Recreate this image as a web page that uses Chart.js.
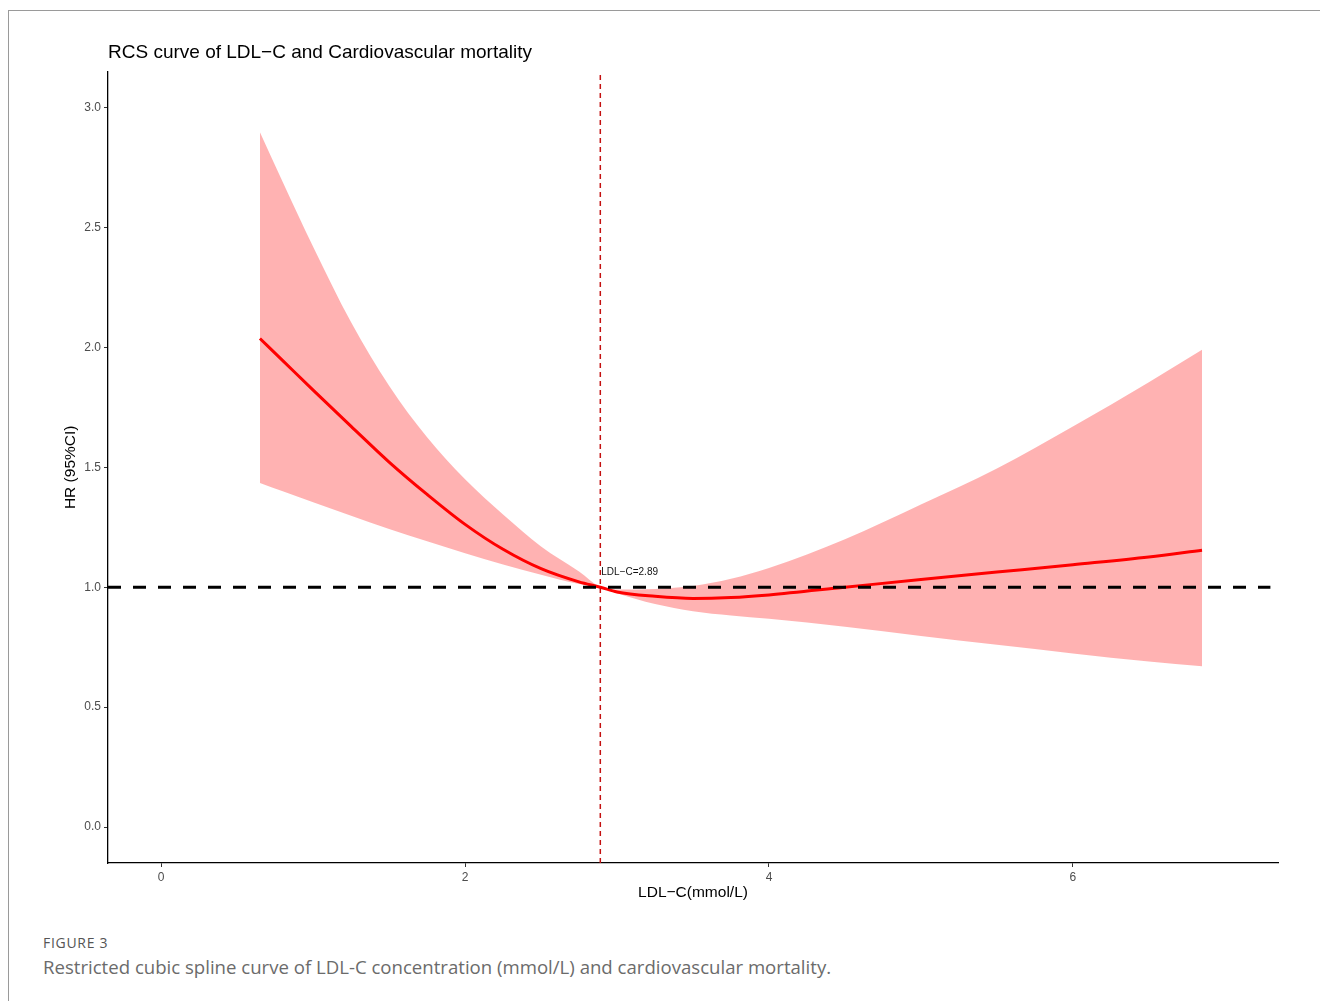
<!DOCTYPE html>
<html>
<head>
<meta charset="utf-8">
<title>RCS curve of LDL−C and Cardiovascular mortality</title>
<script src="https://cdn.jsdelivr.net/npm/chart.js@4/dist/chart.umd.min.js"></script>
<style>
  html, body { margin: 0; padding: 0; background: #fff; }
  body { width: 1320px; height: 1001px; position: relative; overflow: hidden; }
  .frame { position: absolute; left: 8px; top: 10px; width: 1320px; height: 1000px;
           border-top: 1px solid #9a9a9a; border-left: 1px solid #9a9a9a; }
  .plot { position: absolute; left: 0; top: 0; width: 1320px; height: 911px; }
  .fig-label { position: absolute; left: 43px; top: 933px; font-family: "Open Sans", sans-serif;
               font-size: 14px; color: #555; letter-spacing: 0.7px; }
  .fig-caption { position: absolute; left: 43px; top: 954px; font-family: "Open Sans", sans-serif;
                 font-size: 18.6px; color: #6b6b6b; }
</style>
</head>
<body>
<div class="frame"></div>
<div class="plot"><canvas id="chart" width="1320" height="911"></canvas></div>
<div class="fig-label">FIGURE 3</div>
<div class="fig-caption">Restricted cubic spline curve of LDL-C concentration (mmol/L) and cardiovascular mortality.</div>
<script>
// LDL-C concentration (mmol/L) at which the spline is evaluated
const ldl = [0.65, 0.8, 1.0, 1.25, 1.5, 1.75, 2.0, 2.25, 2.5, 2.75, 2.89, 3.0, 3.25, 3.5, 3.75, 4.0, 4.5, 5.0, 5.5, 6.0, 6.5, 6.85];
// Hazard ratio estimate
const hr = [2.037, 1.945, 1.822, 1.671, 1.522, 1.387, 1.262, 1.158, 1.077, 1.022, 1.00, 0.980, 0.962, 0.953, 0.957, 0.968, 1.000, 1.032, 1.063, 1.094, 1.126, 1.154];
// 95% confidence limits
const hrUpper = [2.897, 2.69, 2.42, 2.105, 1.84, 1.625, 1.45, 1.303, 1.17, 1.065, 1.00, 0.990, 0.993, 1.005, 1.035, 1.080, 1.200, 1.345, 1.495, 1.670, 1.855, 1.99];
const hrLower = [1.435, 1.40, 1.354, 1.298, 1.243, 1.192, 1.142, 1.095, 1.052, 1.013, 1.00, 0.975, 0.930, 0.900, 0.882, 0.868, 0.835, 0.797, 0.760, 0.724, 0.690, 0.670];
// Reference lines
const cutoff = 2.89;
const refHR = 1.0;
// Axis ranges and tick labels
const xRange = [-0.35, 7.35];
const yRange = [-0.15, 3.15];
const xTicks = [0, 2, 4, 6];
const yTicks = [0.0, 0.5, 1.0, 1.5, 2.0, 2.5, 3.0];

const pts = (ys) => ldl.map((x, i) => ({ x: x, y: ys[i] }));
const FONT = '"Liberation Sans", Arial, sans-serif';

const cutoffLabel = {
  id: 'cutoffLabel',
  afterDatasetsDraw(chart) {
    const { ctx, scales } = chart;
    const px = scales.x.getPixelForValue(cutoff);
    const py = scales.y.getPixelForValue(refHR);
    ctx.save();
    ctx.font = '10px ' + FONT;
    ctx.fillStyle = '#111';
    ctx.textAlign = 'left';
    ctx.textBaseline = 'middle';
    ctx.fillText('LDL−C=' + cutoff.toFixed(2), px + 1, py - 15);
    ctx.restore();
  }
};

new Chart(document.getElementById('chart'), {
  type: 'line',
  data: {
    datasets: [
      { // horizontal reference at HR = 1
        data: [{ x: xRange[0], y: refHR }, { x: 7.3, y: refHR }],
        borderColor: '#000', borderWidth: 3, borderDash: [13, 12],
        pointRadius: 0, fill: false, order: 0
      },
      { // vertical reference at the cutoff
        data: [{ x: cutoff, y: yRange[0] }, { x: cutoff, y: yRange[1] }],
        borderColor: '#c41010', borderWidth: 1.5, borderDash: [5, 4],
        pointRadius: 0, fill: false, order: 1
      },
      { // fitted hazard ratio
        data: pts(hr),
        borderColor: '#ff0000', borderWidth: 3,
        pointRadius: 0, fill: false, order: 2,
        cubicInterpolationMode: 'monotone'
      },
      { // upper confidence limit
        data: pts(hrUpper),
        borderWidth: 0, borderColor: 'rgba(0,0,0,0)',
        pointRadius: 0, fill: false, order: 3,
        cubicInterpolationMode: 'monotone'
      },
      { // lower confidence limit, band filled to the upper limit
        data: pts(hrLower),
        borderWidth: 0, borderColor: 'rgba(0,0,0,0)',
        backgroundColor: 'rgba(255,0,0,0.3)',
        pointRadius: 0, fill: '-1', order: 4,
        cubicInterpolationMode: 'monotone'
      }
    ]
  },
  options: {
    responsive: false,
    animation: false,
    events: [],
    layout: { padding: { left: 0, right: 42, top: 0, bottom: 0 } },
    plugins: {
      legend: { display: false },
      tooltip: { enabled: false },
      title: {
        display: true,
        text: 'RCS curve of LDL−C and Cardiovascular mortality',
        align: 'start',
        fullSize: false,
        color: '#000',
        font: { family: FONT, size: 19, weight: 'normal' },
        padding: { top: 41, bottom: 7.8 }
      }
    },
    scales: {
      x: {
        type: 'linear',
        min: xRange[0], max: xRange[1],
        afterBuildTicks: (s) => { s.ticks = xTicks.map(v => ({ value: v })); },
        afterFit: (s) => { s.height = 48; },
        grid: { display: true, drawOnChartArea: false, drawTicks: true, tickLength: 4, color: '#333', lineWidth: 1 },
        border: { display: true, color: '#000', width: 1.3 },
        ticks: { color: '#4d4d4d', font: { family: FONT, size: 12 }, padding: 3, maxRotation: 0,
                 callback: (v) => String(v) },
        title: { display: true, text: 'LDL−C(mmol/L)', color: '#000',
                 font: { family: FONT, size: 15.5 }, padding: { top: 0, bottom: 9 } }
      },
      y: {
        type: 'linear',
        min: yRange[0], max: yRange[1],
        afterBuildTicks: (s) => { s.ticks = yTicks.map(v => ({ value: v })); },
        afterFit: (s) => { s.width = 108; },
        grid: { display: true, drawOnChartArea: false, drawTicks: true, tickLength: 4, color: '#333', lineWidth: 1 },
        border: { display: true, color: '#000', width: 1.3 },
        ticks: { color: '#4d4d4d', font: { family: FONT, size: 12 }, padding: 3,
                 callback: (v) => Number(v).toFixed(1) },
        title: { display: true, text: 'HR (95%CI)', color: '#000',
                 font: { family: FONT, size: 15.5 }, padding: { top: 61, bottom: 0 } }
      }
    }
  },
  plugins: [cutoffLabel]
});
</script>
</body>
</html>
